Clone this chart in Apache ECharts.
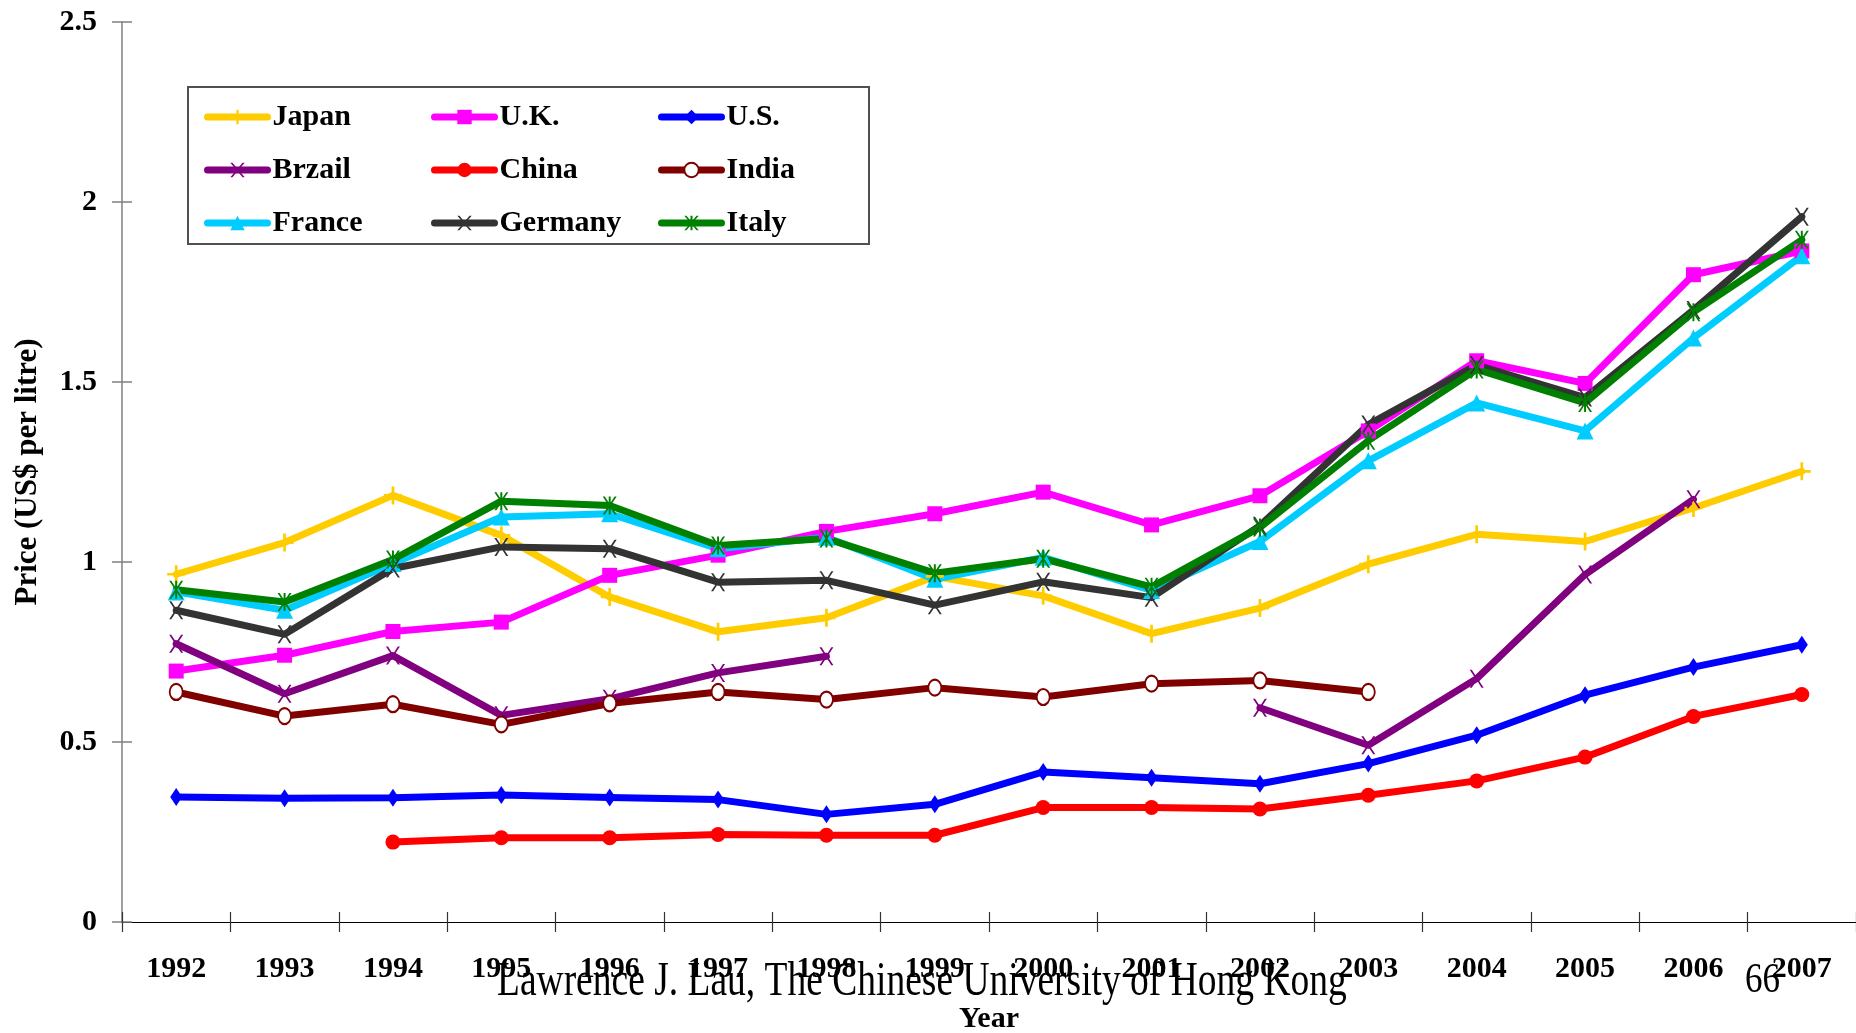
<!DOCTYPE html>
<html><head><meta charset="utf-8">
<script src="https://cdn.jsdelivr.net/npm/echarts@6/dist/echarts.min.js"></script>
<style>html,body{margin:0;padding:0;background:#fff;overflow:hidden}#c{width:1856px;height:1033px}</style>
</head><body><div id="c"></div>
<script>
const years = ['1992','1993','1994','1995','1996','1997','1998','1999','2000','2001','2002','2003','2004','2005','2006','2007'];
const japan   = [0.966,1.054,1.185,1.074,0.903,0.806,0.845,0.960,0.906,0.801,0.872,0.994,1.077,1.057,1.150,1.252];
const uk      = [0.697,0.741,0.807,0.833,0.963,1.019,1.085,1.134,1.194,1.103,1.184,1.364,1.559,1.496,1.798,1.864];
const us      = [0.347,0.344,0.345,0.353,0.346,0.340,0.299,0.327,0.417,0.401,0.384,0.440,0.519,0.630,0.708,0.770];
const brazil  = [0.773,0.634,0.740,0.574,0.620,0.692,0.738,null,null,null,0.595,0.491,0.676,0.965,1.174,null];
const china   = [null,null,0.222,0.234,0.234,0.243,0.241,0.241,0.318,0.318,0.314,0.352,0.392,0.458,0.571,0.632];
const india   = [0.639,0.572,0.605,0.549,0.607,0.639,0.618,0.651,0.625,0.662,0.671,0.639,null,null,null,null];
const france  = [0.917,0.866,0.996,1.125,1.134,1.037,1.069,0.952,1.013,0.921,1.057,1.281,1.442,1.364,1.622,1.851];
const germany = [0.866,0.799,0.982,1.042,1.037,0.944,0.949,0.880,0.945,0.901,1.101,1.382,1.547,1.457,1.700,1.959];
const italy   = [0.923,0.889,1.007,1.169,1.157,1.046,1.065,0.969,1.009,0.931,1.096,1.337,1.535,1.442,1.694,1.895];
const yMin = 0, yMax = 2.5, yStep = 0.5;
const yTitle = 'Price (US$ per litre)';
const xTitle = 'Year';
const footer = 'Lawrence J. Lau, The Chinese University of Hong Kong';
const pageNo = '66';

const FONT = "'Liberation Serif','Times New Roman',serif";
const SYM_PLUS = 'path://M8.5,0H11.5V8.5H20V11.5H11.5V20H8.5V11.5H0V8.5H8.5Z';
const SYM_X = 'path://M0,0H3L10,10.5L17,0H20L11.5,12.5L20,25H17L10,14.5L3,25H0L8.5,12.5Z';
const SYM_STAR = 'path://M0,0H3L10,10.5L17,0H20L11.5,12.5L20,25H17L10,14.5L3,25H0L8.5,12.5Z M8.6,0H11.4V25H8.6Z';

function mk(name, data, color, symbol, size, extra) {
  const s = {
    name, type: 'line', data, xAxisIndex: 0, yAxisIndex: 0,
    connectNulls: false, showSymbol: true, symbol, symbolSize: size,
    color,
    lineStyle: {color, width: 7, cap: 'round', join: 'round'},
    itemStyle: {color, borderWidth: 0},
    emphasis: {disabled: true},
    z: 2
  };
  return Object.assign(s, extra || {});
}

const series = [
  mk('Japan', japan, '#FFCC00', SYM_PLUS, 18),
  mk('U.K.', uk, '#FF00FF', 'rect', 15),
  mk('U.S.', us, '#0000FF', 'diamond', [12, 18]),
  mk('Brzail', brazil, '#800080', SYM_X, [14, 18]),
  mk('China', china, '#FF0000', 'circle', 15),
  mk('India', india, '#800000', 'circle', [13, 16], {itemStyle: {color: '#ffffff', borderColor: '#800000', borderWidth: 2}}),
  mk('France', france, '#00CCFF', 'triangle', 17),
  mk('Germany', germany, '#333333', SYM_X, [14, 18]),
  mk('Italy', italy, '#008000', SYM_STAR, [14, 18])
];

function legendCol(names, left) {
  return {
    data: names, orient: 'vertical', left, top: 101.5, padding: 0,
    itemWidth: 60, itemHeight: 18, itemGap: 22, selectedMode: false,
    lineStyle: {width: 7},
    textStyle: {fontFamily: FONT, fontWeight: 'bold', fontSize: 30, color: '#000', lineHeight: 31}
  };
}

const chart = echarts.init(document.getElementById('c'), null, {renderer: 'canvas'});
chart.setOption({
  animation: false,
  backgroundColor: '#ffffff',
  grid: {left: 122, right: 0, top: 22, bottom: 111, containLabel: false, outerBoundsMode: 'none'},
  legend: [
    legendCol(['Japan', 'Brzail', 'France'], 204),
    legendCol(['U.K.', 'China', 'Germany'], 431),
    legendCol(['U.S.', 'India', 'Italy'], 658)
  ],
  xAxis: [{
    type: 'category', data: years, position: 'bottom', boundaryGap: true,
    axisLine: {show: true, lineStyle: {color: '#000', width: 1.2}},
    axisTick: {show: true, inside: false, length: 10, interval: 0, lineStyle: {color: '#333', width: 1.2}},
    axisLabel: {interval: 0, margin: 32, fontFamily: FONT, fontWeight: 'bold', fontSize: 30, color: '#000'},
    splitLine: {show: false},
    name: xTitle, nameLocation: 'middle', nameGap: 82,
    nameTextStyle: {fontFamily: FONT, fontWeight: 'bold', fontSize: 30, color: '#000'}
  }, {
    type: 'category', data: years, position: 'bottom', boundaryGap: true,
    axisLine: {show: false}, axisLabel: {show: false}, splitLine: {show: false},
    axisTick: {show: true, inside: true, length: 10, interval: 0, lineStyle: {color: '#333', width: 1.2}}
  }],
  yAxis: [{
    type: 'value', min: yMin, max: yMax, interval: yStep, position: 'left',
    axisLine: {show: true, lineStyle: {color: '#808080', width: 1.5}},
    axisTick: {show: true, inside: false, length: 10, lineStyle: {color: '#808080', width: 1.5}},
    axisLabel: {margin: 25, fontFamily: FONT, fontWeight: 'bold', fontSize: 30, color: '#000'},
    splitLine: {show: false},
    name: yTitle, nameLocation: 'middle', nameGap: 79,
    nameTextStyle: {fontFamily: FONT, fontWeight: 'bold', fontSize: 31, color: '#000'}
  }, {
    type: 'value', min: yMin, max: yMax, interval: yStep, position: 'left',
    axisLine: {show: false}, axisLabel: {show: false}, splitLine: {show: false},
    axisTick: {show: true, inside: true, length: 10, lineStyle: {color: '#808080', width: 1.5}}
  }],
  graphic: [
    {type: 'rect', shape: {x: 188, y: 87, width: 681, height: 157}, style: {fill: 'none', stroke: '#505050', lineWidth: 2}, z: 1, silent: true},
    {type: 'text', x: 497, y: 982, scaleY: 1.29, z: 10, silent: true,
      style: {text: footer, x: 0, y: 0, font: '37.5px ' + FONT, fill: '#000', verticalAlign: 'middle', align: 'left'}},
    {type: 'text', x: 1745, y: 981, scaleY: 1.2, z: 10, silent: true,
      style: {text: pageNo, x: 0, y: 0, font: '35px ' + FONT, fill: '#000', verticalAlign: 'middle', align: 'left'}}
  ],
  series
});
</script>
</body></html>
